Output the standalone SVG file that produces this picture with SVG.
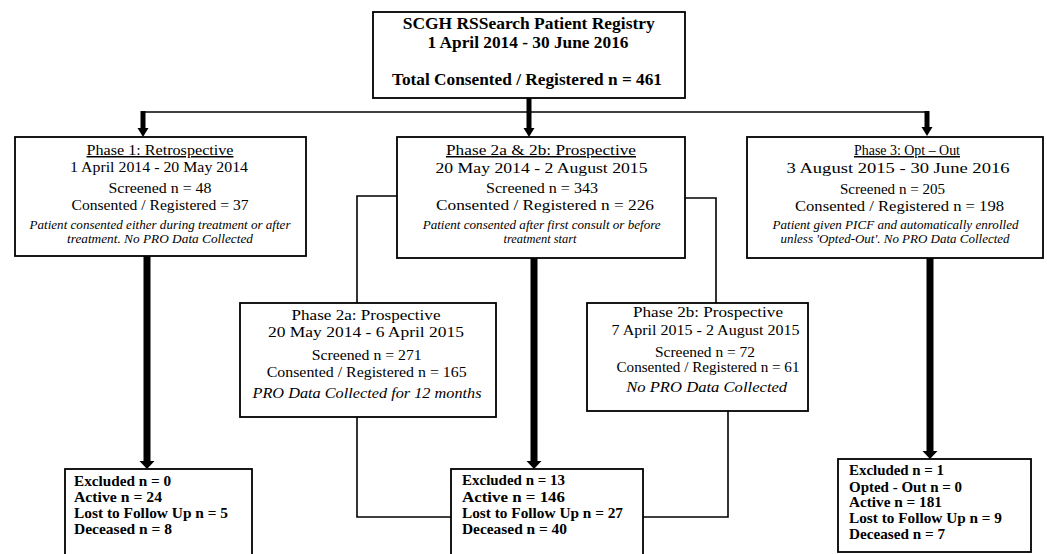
<svg xmlns="http://www.w3.org/2000/svg" width="1047" height="554" viewBox="0 0 1047 554">
<style>
.box{fill:#fff;stroke:#000;stroke-width:1.8}
.t{font-family:"Liberation Serif","Times New Roman",serif;fill:#000}
.b{font-weight:bold}
.c{text-anchor:middle}
.u{text-decoration:underline}
.i{font-style:italic}
.f15{font-size:16px}
.f14{font-size:15px}
.f13{font-size:14px}
.f12{font-size:12.5px}
.thin{fill:none;stroke:#000;stroke-width:1.6}
.thick{fill:none;stroke:#000;stroke-width:7}
.mid{fill:none;stroke:#000;stroke-width:5}
</style>
<defs>
<marker id="hs" markerUnits="userSpaceOnUse" markerWidth="12" markerHeight="12" refX="0" refY="6" orient="auto"><path d="M0,0.5 L9,6 L0,11.5 z" fill="#000"/></marker>
<marker id="hl" markerUnits="userSpaceOnUse" markerWidth="10" markerHeight="16" refX="0" refY="8" orient="auto"><path d="M0,0.5 L8,8 L0,15.5 z" fill="#000"/></marker>
</defs>
<g id="connectors">
<line class="thin" x1="142" y1="112" x2="929" y2="112"/>
<line class="mid" x1="529" y1="98" x2="529" y2="128" marker-end="url(#hs)"/>
<line class="mid" x1="143" y1="111" x2="143" y2="128" marker-end="url(#hs)"/>
<line class="mid" x1="927" y1="111" x2="927" y2="127" marker-end="url(#hs)"/>
<line class="thick" x1="147" y1="256" x2="147" y2="461" marker-end="url(#hl)"/>
<line class="thick" x1="534" y1="258" x2="534" y2="461" marker-end="url(#hl)"/>
<line class="thick" x1="930" y1="258" x2="930" y2="451" marker-end="url(#hl)"/>
<polyline class="thin" points="397,196 357,196 357,303"/>
<polyline class="thin" points="685,198 716,198 716,303"/>
<polyline class="thin" points="357,417 357,517 451,517"/>
<polyline class="thin" points="728,411 728,517 643,517"/>
</g>
<g id="registry">
<rect class="box" x="373" y="12" width="312" height="86"/>
<text class="t b c f15" x="528.7" y="29" textLength="252" lengthAdjust="spacingAndGlyphs">SCGH RSSearch Patient Registry</text>
<text class="t b c f15" x="528" y="48" textLength="201" lengthAdjust="spacingAndGlyphs">1 April  2014 - 30 June 2016</text>
<text class="t b c f15" x="527" y="85" textLength="270" lengthAdjust="spacingAndGlyphs">Total Consented / Registered n = 461</text>
</g>
<g id="phase1">
<rect class="box" x="15" y="137" width="291" height="119"/>
<text class="t c u f14" x="160" y="155" textLength="147" lengthAdjust="spacingAndGlyphs">Phase 1: Retrospective</text>
<text class="t c f14" x="159" y="172" textLength="178" lengthAdjust="spacingAndGlyphs">1 April 2014 - 20 May 2014</text>
<text class="t c f14" x="160" y="193" textLength="103" lengthAdjust="spacingAndGlyphs">Screened n = 48</text>
<text class="t c f14" x="160" y="210" textLength="177" lengthAdjust="spacingAndGlyphs">Consented / Registered = 37</text>
<text class="t c i f12" x="160" y="229" textLength="261" lengthAdjust="spacingAndGlyphs">Patient consented either during treatment or after</text>
<text class="t c i f12" x="160" y="243" textLength="186" lengthAdjust="spacingAndGlyphs">treatment. No PRO Data Collected</text>
</g>
<g id="phase2ab">
<rect class="box" x="397" y="137" width="288" height="121"/>
<text class="t c u f14" x="541" y="155" textLength="190" lengthAdjust="spacingAndGlyphs">Phase 2a &amp; 2b: Prospective</text>
<text class="t c f14" x="541.5" y="173" textLength="212" lengthAdjust="spacingAndGlyphs">20 May 2014 - 2 August  2015</text>
<text class="t c f14" x="542" y="193" textLength="112" lengthAdjust="spacingAndGlyphs">Screened n = 343</text>
<text class="t c f14" x="545" y="210" textLength="218" lengthAdjust="spacingAndGlyphs">Consented / Registered n = 226</text>
<text class="t c i f12" x="541.7" y="229" textLength="238" lengthAdjust="spacingAndGlyphs">Patient consented after first consult or before</text>
<text class="t c i f12" x="540" y="243" textLength="73" lengthAdjust="spacingAndGlyphs">treatment start</text>
</g>
<g id="phase3">
<rect class="box" x="747" y="137" width="296" height="121"/>
<text class="t c u f14" x="907" y="155" textLength="106" lengthAdjust="spacingAndGlyphs">Phase 3:  Opt – Out</text>
<text class="t c f14" x="898" y="173" textLength="223" lengthAdjust="spacingAndGlyphs">3 August  2015 - 30 June 2016</text>
<text class="t c f14" x="892.5" y="194" textLength="105" lengthAdjust="spacingAndGlyphs">Screened n = 205</text>
<text class="t c f14" x="899.5" y="211" textLength="209" lengthAdjust="spacingAndGlyphs">Consented / Registered n = 198</text>
<text class="t c i f12" x="895.5" y="229" textLength="246" lengthAdjust="spacingAndGlyphs">Patient given PICF and automatically enrolled</text>
<text class="t c i f12" x="895" y="243" textLength="229" lengthAdjust="spacingAndGlyphs">unless 'Opted-Out'. No PRO Data Collected</text>
</g>
<g id="phase2a">
<rect class="box" x="240" y="303" width="256" height="114"/>
<text class="t c f14" x="366" y="320" textLength="149" lengthAdjust="spacingAndGlyphs">Phase 2a: Prospective</text>
<text class="t c f14" x="366" y="337" textLength="196" lengthAdjust="spacingAndGlyphs">20 May 2014 - 6 April  2015</text>
<text class="t c f14" x="366.7" y="360" textLength="110" lengthAdjust="spacingAndGlyphs">Screened n = 271</text>
<text class="t c f14" x="366.7" y="377" textLength="200" lengthAdjust="spacingAndGlyphs">Consented / Registered n = 165</text>
<text class="t c i f14" x="367" y="398" textLength="229" lengthAdjust="spacingAndGlyphs">PRO Data Collected for 12 months</text>
</g>
<g id="phase2b">
<rect class="box" x="587" y="303" width="221" height="108"/>
<text class="t c f14" x="708" y="317" textLength="150" lengthAdjust="spacingAndGlyphs">Phase 2b: Prospective</text>
<text class="t c f14" x="705.5" y="335" textLength="188" lengthAdjust="spacingAndGlyphs">7 April 2015 - 2 August 2015</text>
<text class="t c f14" x="705" y="357" textLength="100" lengthAdjust="spacingAndGlyphs">Screened n = 72</text>
<text class="t c f14" x="708" y="372" textLength="183" lengthAdjust="spacingAndGlyphs">Consented / Registered n = 61</text>
<text class="t c i f14" x="706.7" y="392" textLength="161" lengthAdjust="spacingAndGlyphs">No PRO Data Collected</text>
</g>
<g id="outcome1">
<rect class="box" x="65" y="469" width="187" height="100"/>
<text class="t b f13" x="74" y="486" textLength="97" lengthAdjust="spacingAndGlyphs">Excluded n = 0</text>
<text class="t b f13" x="74" y="502" textLength="88" lengthAdjust="spacingAndGlyphs">Active n = 24</text>
<text class="t b f13" x="74" y="518" textLength="154" lengthAdjust="spacingAndGlyphs">Lost to Follow  Up n = 5</text>
<text class="t b f13" x="74" y="534" textLength="98" lengthAdjust="spacingAndGlyphs">Deceased n = 8</text>
</g>
<g id="outcome2">
<rect class="box" x="451" y="469" width="192" height="100"/>
<text class="t b f13" x="462" y="485" textLength="103" lengthAdjust="spacingAndGlyphs">Excluded n = 13</text>
<text class="t b f13" x="462" y="502" textLength="103" lengthAdjust="spacingAndGlyphs">Active n = 146</text>
<text class="t b f13" x="462" y="518" textLength="161" lengthAdjust="spacingAndGlyphs">Lost to Follow  Up n = 27</text>
<text class="t b f13" x="462" y="534" textLength="105" lengthAdjust="spacingAndGlyphs">Deceased n = 40</text>
</g>
<g id="outcome3">
<rect class="box" x="838" y="459" width="193" height="93"/>
<text class="t b f13" x="849" y="475" textLength="95" lengthAdjust="spacingAndGlyphs">Excluded n = 1</text>
<text class="t b f13" x="849" y="492" textLength="113" lengthAdjust="spacingAndGlyphs">Opted - Out n = 0</text>
<text class="t b f13" x="849" y="507" textLength="93" lengthAdjust="spacingAndGlyphs">Active n = 181</text>
<text class="t b f13" x="849" y="523" textLength="153" lengthAdjust="spacingAndGlyphs">Lost to Follow  Up n = 9</text>
<text class="t b f13" x="849" y="539" textLength="96" lengthAdjust="spacingAndGlyphs">Deceased n = 7</text>
</g>
</svg>
